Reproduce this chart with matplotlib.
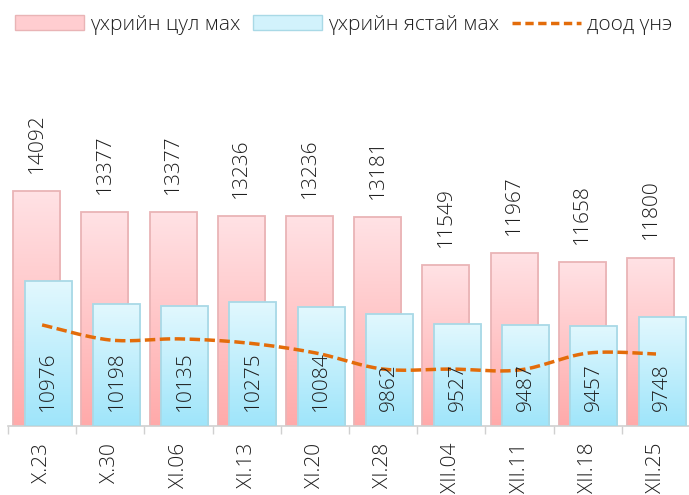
import numpy as np
import matplotlib.pyplot as plt
from matplotlib.lines import Line2D
from matplotlib.patches import Patch

plt.rcParams['font.family'] = ['Open Sans', 'DejaVu Sans']
plt.rcParams['font.weight'] = 'light'

cats = ['X.23', 'X.30', 'XI.06', 'XI.13', 'XI.20', 'XI.28', 'XII.04', 'XII.11', 'XII.18', 'XII.25']
tsul = [14092, 13377, 13377, 13236, 13236, 13181, 11549, 11967, 11658, 11800]
yastai = [10976, 10198, 10135, 10275, 10084, 9862, 9527, 9487, 9457, 9748]
dood = [9480, 8960, 9000, 8860, 8520, 7960, 7960, 7930, 8510, 8480]

pink_top, pink_bot, pink_edge = '#FFE2E5', '#FFAAAA', '#E9B4B6'
cyan_top, cyan_bot, cyan_edge = '#E2F8FE', '#9FE5FA', '#A9D9E6'
orange = '#E36C0A'
txt = '#1E1E1E'
dash = (3, 1.3)

fig = plt.figure(figsize=(6.89, 4.95), dpi=100)
ax = fig.add_axes([0.0116, 0.1394, 0.99, 0.5867])
ymin, ymax = 6000, 16000
x = np.arange(len(cats))
w = 0.69


def grad_bars(xpos, vals, c_top, c_bot, edge, z):
    bars = ax.bar(xpos, [v - ymin for v in vals], w, bottom=ymin,
                  facecolor='none', edgecolor=edge, linewidth=1.3, zorder=z + 0.5)
    ct = np.array(plt.matplotlib.colors.to_rgb(c_top))
    cb = np.array(plt.matplotlib.colors.to_rgb(c_bot))
    g = np.linspace(0, 1, 100)[:, None]
    img = (ct * (1 - g) + cb * g)[:, None, :]
    for b in bars:
        x0, y0 = b.get_x(), b.get_y()
        im = ax.imshow(img, extent=[x0, x0 + b.get_width(), y0, y0 + b.get_height()],
                       aspect='auto', zorder=z, origin='upper')
        im.set_clip_path(b)
    return bars


grad_bars(x - 0.08, tsul, pink_top, pink_bot, pink_edge, 2)
grad_bars(x + 0.09, yastai, cyan_top, cyan_bot, cyan_edge, 3)

# smooth line through the points (Catmull-Rom)
px = np.array(x, float)
py = np.array(dood, float)
P = np.vstack([px, py]).T
P = np.vstack([P[0], P, P[-1]])
sx, sy = [], []
for i in range(1, len(P) - 2):
    p0, p1, p2, p3 = P[i - 1], P[i], P[i + 1], P[i + 2]
    t = np.linspace(0, 1, 30)[:, None]
    c = 0.5 * ((2 * p1) + (-p0 + p2) * t + (2 * p0 - 5 * p1 + 4 * p2 - p3) * t ** 2
               + (-p0 + 3 * p1 - 3 * p2 + p3) * t ** 3)
    sx.extend(c[:, 0])
    sy.extend(c[:, 1])
ax.plot(sx, sy, color=orange, lw=2.5, dashes=dash, zorder=5)

for i in range(len(cats)):
    ax.annotate(str(tsul[i]), (x[i] - 0.08, tsul[i]), xytext=(0, 13), textcoords='offset points',
                rotation=90, ha='center', va='bottom', fontsize=15, color=txt)
    ax.annotate(str(yastai[i]), (x[i] + 0.09, ymin), xytext=(0, 11), textcoords='offset points',
                rotation=90, ha='center', va='bottom', fontsize=15, color=txt, zorder=6)

ax.set_xlim(-0.5, len(cats) - 0.5)
ax.set_ylim(ymin, ymax)
ax.set_yticks([])
ax.set_xticks(x)
ax.set_xticklabels(cats, rotation=90, fontsize=15, color=txt, va='top')
ax.tick_params(axis='x', which='major', length=0, pad=12)
ax.set_xticks(np.arange(-0.5, len(cats)), minor=True)
ax.tick_params(axis='x', which='minor', length=6, color='#D0D0D0', width=1)
for s in ['left', 'right', 'top']:
    ax.spines[s].set_visible(False)
ax.spines['bottom'].set_color('#D0D0D0')
ax.spines['bottom'].set_linewidth(1.2)
ax.patch.set_alpha(0)

handles = [Patch(facecolor='#FFCDD0', edgecolor=pink_edge),
           Patch(facecolor='#D2F2FC', edgecolor=cyan_edge),
           Line2D([0], [0], color=orange, lw=2.5, dashes=(2.4, 1.3))]
fig.legend(handles, ['үхрийн цул мах', 'үхрийн ястай мах', 'доод үнэ'],
           loc='center left', bbox_to_anchor=(15 / 689, 1 - 25 / 495), ncol=3, frameon=False,
           fontsize=15, handlelength=3.3, handleheight=0.72, columnspacing=0.62,
           handletextpad=0.3, borderpad=0, borderaxespad=0, labelcolor=txt)

fig.savefig('out.png', dpi=100)
